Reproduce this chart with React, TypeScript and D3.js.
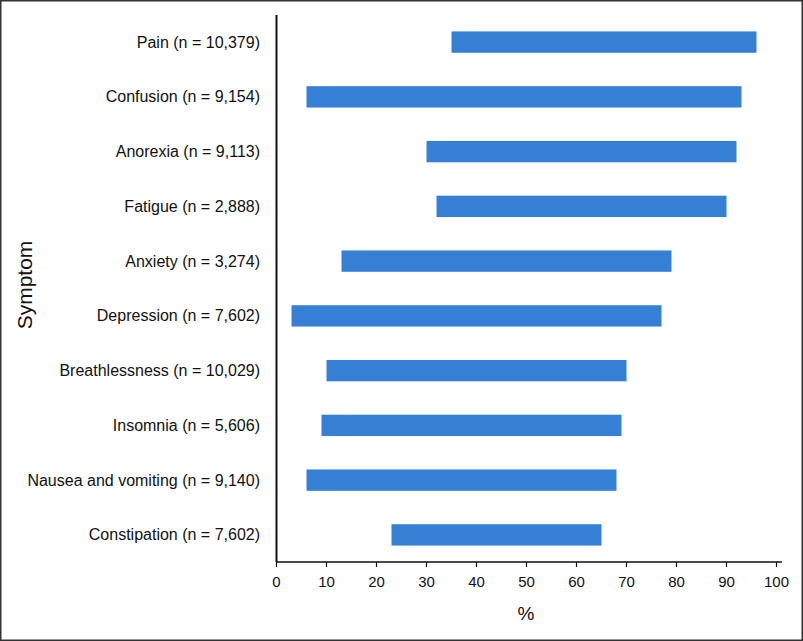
import React from "react";
import * as d3 from "d3";

const symptoms = [
  "Pain (n = 10,379)",
  "Confusion (n = 9,154)",
  "Anorexia (n = 9,113)",
  "Fatigue (n = 2,888)",
  "Anxiety (n = 3,274)",
  "Depression (n = 7,602)",
  "Breathlessness (n = 10,029)",
  "Insomnia (n = 5,606)",
  "Nausea and vomiting (n = 9,140)",
  "Constipation (n = 7,602)",
];
const lowValues = [35, 6, 30, 32, 13, 3, 10, 9, 6, 23];
const highValues = [96, 93, 92, 90, 79, 77, 70, 69, 68, 65];
const xTicks = [0, 10, 20, 30, 40, 50, 60, 70, 80, 90, 100];

const W = 803;
const H = 641;
const FONT = "'Liberation Sans', Arial, Helvetica, sans-serif";

export default function App() {
  const x = d3.scaleLinear().domain([0, 100]).range([276.5, 776.5]);
  const y = d3.scaleBand<string>().domain(symptoms).range([15, 562]).paddingInner(0.61).paddingOuter(0.3);
  const axisY = 562;
  const bw = y.bandwidth();

  return (
    <svg
      width={W}
      height={H}
      style={{ position: "absolute", left: 0, top: 0, background: "#fff" }}
      fontFamily={FONT}
    >
      <rect x={0.75} y={0.75} width={W - 1.5} height={H - 1.5} fill="#fff" stroke="#333" strokeWidth={1.5} />
      {symptoms.map((s, i) => (
        <rect
          key={s}
          x={x(lowValues[i])}
          y={y(s)!}
          width={x(highValues[i]) - x(lowValues[i])}
          height={bw}
          fill="#3580d5"
        />
      ))}
      {symptoms.map((s) => (
        <text
          key={"l" + s}
          x={260}
          y={y(s)! + bw / 2}
          dy="0.35em"
          textAnchor="end"
          fontSize={16}
          fill="#111"
        >
          {s}
        </text>
      ))}
      <line x1={276.5} x2={276.5} y1={15} y2={axisY} stroke="#111" strokeWidth={2} />
      <line x1={276.5} x2={782} y1={axisY} y2={axisY} stroke="#111" strokeWidth={1.5} />
      {xTicks.map((t) => (
        <g key={t} transform={`translate(${x(t)},${axisY})`}>
          <line y1={0} y2={5} stroke="#111" strokeWidth={1.2} />
          <text y={20} dy="0.35em" textAnchor="middle" fontSize={15} fill="#111">
            {t}
          </text>
        </g>
      ))}
      <text x={526} y={613} dy="0.35em" textAnchor="middle" fontSize={19} fill="#111">
        %
      </text>
      <text
        transform={`translate(25,285) rotate(-90)`}
        dy="0.35em"
        textAnchor="middle"
        fontSize={21}
        fill="#111"
      >
        Symptom
      </text>
    </svg>
  );
}
